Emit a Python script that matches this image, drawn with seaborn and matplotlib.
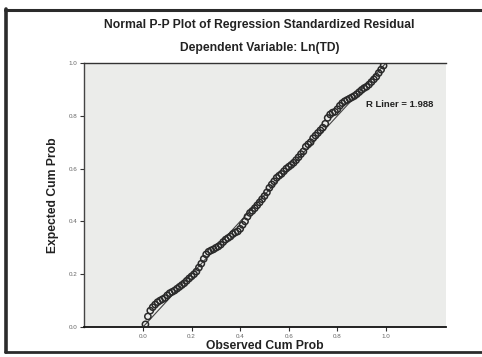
import matplotlib
matplotlib.use("Agg")
import matplotlib.pyplot as plt
from matplotlib.lines import Line2D
import seaborn as sns
import pandas as pd

# ---- data ----
observed = [0.01, 0.02, 0.03, 0.04, 0.05, 0.06, 0.07, 0.08, 0.09, 0.10,
            0.11, 0.12, 0.13, 0.14, 0.15, 0.16, 0.17, 0.18, 0.19, 0.20,
            0.21, 0.22, 0.23, 0.24, 0.25, 0.26, 0.27, 0.28, 0.29, 0.30,
            0.31, 0.32, 0.33, 0.34, 0.35, 0.36, 0.37, 0.38, 0.39, 0.40,
            0.41, 0.42, 0.43, 0.44, 0.45, 0.46, 0.47, 0.48, 0.49, 0.50,
            0.51, 0.52, 0.53, 0.54, 0.55, 0.56, 0.57, 0.58, 0.59, 0.60,
            0.61, 0.62, 0.63, 0.64, 0.65, 0.66, 0.67, 0.68, 0.69, 0.70,
            0.71, 0.72, 0.73, 0.74, 0.75, 0.76, 0.77, 0.78, 0.79, 0.80,
            0.81, 0.82, 0.83, 0.84, 0.85, 0.86, 0.87, 0.88, 0.89, 0.90,
            0.91, 0.92, 0.93, 0.94, 0.95, 0.96, 0.97, 0.98, 0.99]
expected = [0.01, 0.04, 0.062, 0.075, 0.085, 0.094, 0.10, 0.105, 0.11, 0.12,
            0.128, 0.133, 0.138, 0.145, 0.152, 0.159, 0.166, 0.175, 0.184, 0.192,
            0.20, 0.21, 0.225, 0.24, 0.258, 0.275, 0.285, 0.29, 0.294, 0.30,
            0.305, 0.312, 0.322, 0.331, 0.337, 0.343, 0.352, 0.358, 0.362, 0.372,
            0.387, 0.40, 0.418, 0.432, 0.44, 0.45, 0.461, 0.472, 0.484, 0.496,
            0.51, 0.527, 0.54, 0.552, 0.565, 0.573, 0.58, 0.59, 0.60, 0.607,
            0.614, 0.622, 0.632, 0.643, 0.655, 0.665, 0.683, 0.692, 0.70, 0.715,
            0.725, 0.735, 0.745, 0.755, 0.77, 0.792, 0.805, 0.812, 0.815, 0.825,
            0.838, 0.848, 0.855, 0.86, 0.865, 0.87, 0.875, 0.882, 0.89, 0.898,
            0.905, 0.91, 0.918, 0.928, 0.938, 0.948, 0.962, 0.975, 0.99]
diag_x = [0.0, 1.0]
diag_y = [0.0, 1.0]
tick_values = [0.0, 0.2, 0.4, 0.6, 0.8, 1.0]
tick_labels = ["0.0", "0.2", "0.4", "0.6", "0.8", "1.0"]

title = "Normal P-P Plot of Regression Standardized Residual"
subtitle = "Dependent Variable: Ln(TD)"
xlabel = "Observed Cum Prob"
ylabel = "Expected Cum Prob"
annot = "R Liner = 1.988"

sns.set_theme(style="white")
plt.rcParams["font.family"] = ["Liberation Sans", "DejaVu Sans"]

W, H = 482, 357
fig = plt.figure(figsize=(W / 100, H / 100), dpi=100)
fig.patch.set_facecolor("white")

ax_l, ax_r, ax_t, ax_b = 84, 446, 63, 327
ax = fig.add_axes([ax_l / W, 1 - ax_b / H, (ax_r - ax_l) / W, (ax_b - ax_t) / H])
ax.set_facecolor("#ebecea")

df = pd.DataFrame({"obs": observed, "exp": expected})
dd = pd.DataFrame({"x": diag_x, "y": diag_y})

sns.lineplot(data=dd, x="x", y="y", ax=ax, color="#444444", linewidth=0.8, zorder=2)
sns.scatterplot(data=df, x="obs", y="exp", ax=ax, marker="o", s=20,
                facecolor="none", edgecolor="#2a2a2a", linewidth=1.1, zorder=3)

ax.set_xlim(-0.2428, 1.2469)
ax.set_ylim(0.0, 1.0)
ax.set_xticks(tick_values)
ax.set_xticklabels(tick_labels)
ax.set_yticks(tick_values)
ax.set_yticklabels(tick_labels)
ax.tick_params(axis="both", which="major", length=3, width=0.8, color="#333333",
               labelsize=4.5, labelcolor="#666666", pad=2, bottom=True, left=True)

ax.spines["right"].set_visible(False)
ax.spines["top"].set_color("#333333")
ax.spines["top"].set_linewidth(1.0)
ax.spines["top"].set_linestyle((0, (3, 1)))
ax.spines["left"].set_color("#444444")
ax.spines["left"].set_linewidth(1.0)
ax.spines["bottom"].set_color("#111111")
ax.spines["bottom"].set_linewidth(1.3)

ax.set_xlabel(xlabel, fontsize=8.7, fontweight="bold", color="#222222", labelpad=0.5)
ax.set_ylabel(ylabel, fontsize=8.7, fontweight="bold", color="#222222", labelpad=7)

ax.text(0.918, 0.841, annot, fontsize=6.8, fontweight="bold", color="#222222",
        ha="left", va="center")

fig.text(259.5 / W, 1 - 25 / H, title, fontsize=8.7, fontweight="bold",
         color="#222222", ha="center", va="center")
fig.text(259.5 / W, 1 - 48 / H, subtitle, fontsize=8.7, fontweight="bold",
         color="#222222", ha="center", va="center")

# outer frame
fc = "#2b2b2b"
fig.add_artist(Line2D([6 / W, 6 / W], [1 - 9 / H, 1 - 352 / H], transform=fig.transFigure, color=fc, lw=2.6))
fig.add_artist(Line2D([5 / W, 1.0], [1 - 10 / H, 1 - 10 / H], transform=fig.transFigure, color=fc, lw=2.2))
fig.add_artist(Line2D([5 / W, 1.0], [1 - 352 / H, 1 - 352 / H], transform=fig.transFigure, color=fc, lw=2.0))

fig.savefig("out.png", dpi=100, facecolor="white")
